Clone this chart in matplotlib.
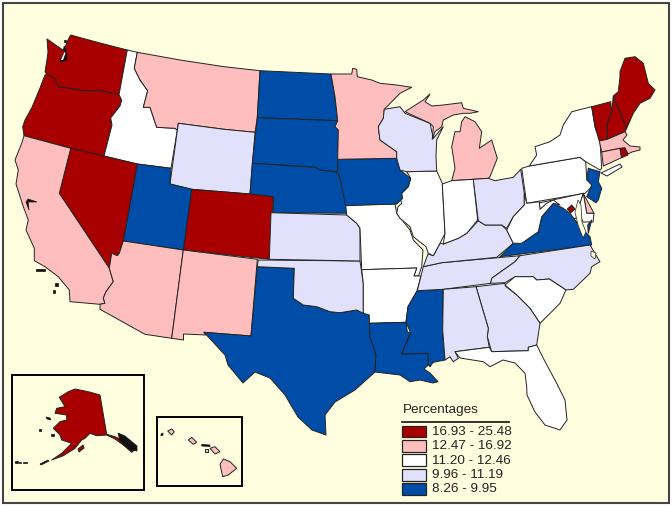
import matplotlib
matplotlib.use('Agg')
import matplotlib.pyplot as plt
from matplotlib.patches import Polygon, Rectangle

plt.rcParams['font.family'] = ['Liberation Sans', 'DejaVu Sans']

# class labels, top class first
bin_labels = ['16.93 - 25.48', '12.47 - 16.92', '11.20 - 12.46', '9.96 - 11.19', '8.26 - 9.95']
bin_colors = ['#A80000', '#FFBEBE', '#FFFFFF', '#E1E1FC', '#004DA8']

# which states fall in which class
bin_states = [
    ['WA', 'OR', 'NV', 'CO', 'VT', 'NH', 'ME', 'RI', 'DC', 'AK'],
    ['CA', 'AZ', 'NM', 'MT', 'MN', 'MI', 'MI2', 'MA', 'CT', 'DE', 'HI'],
    ['ID', 'MO', 'AR', 'IL', 'IN', 'WV', 'NY', 'LI', 'PA', 'SC', 'FL', 'MD', 'MD2'],
    ['WY', 'KS', 'OK', 'WI', 'OH', 'KY', 'TN', 'NC', 'AL', 'GA'],
    ['ND', 'SD', 'NE', 'IA', 'UT', 'TX', 'LA', 'MS', 'VA', 'VA2', 'NJ'],
]

# outlines, in image pixels
outlines = {
    'WA': [(47, 39), (50, 41), (57, 46), (63, 50), (66, 45), (68, 40), (70.7, 35), (100, 43), (127.3, 50), (119, 94.7), (100, 90.7), (83, 90.7), (70, 88.3), (58, 86.7), (55, 78.3), (46.7, 74), (45, 71.7), (46.7, 61.7), (48, 52)],
    'OR': [(46.7, 74), (55, 78.3), (58, 86.7), (70, 88.3), (83, 90.7), (100, 90.7), (119, 94.7), (121.7, 100), (120, 106), (110.7, 118), (112, 125), (104, 156), (70.7, 148.3), (24, 135.7), (22.7, 126.7), (25, 120), (31.7, 108), (40, 88), (45, 75)],
    'ID': [(127.3, 50), (137.3, 52.3), (134.3, 68.3), (140, 80), (147.7, 90.7), (143.3, 107.3), (150, 107.3), (156.7, 127.3), (175, 128.3), (177.3, 130), (171, 168.3), (137.3, 164), (104, 156), (112, 125), (110.7, 118), (120, 106), (121.7, 100), (119, 94.7)],
    'MT': [(137.3, 52.3), (180, 60), (224, 66.7), (260, 70.7), (257.3, 117.7), (255, 132.3), (224, 129.3), (178.3, 123.3), (177.3, 130), (175, 128.3), (156.7, 127.3), (150, 107.3), (143.3, 107.3), (147.7, 90.7), (140, 80), (134.3, 68.3)],
    'WY': [(178.3, 123.3), (224, 129.3), (255, 132.3), (250, 194), (191.7, 189.3), (170, 184)],
    'ND': [(260, 70.7), (331, 74), (335, 96.7), (337.7, 120.7), (257.3, 117.7)],
    'SD': [(257.3, 117.7), (337.7, 120.7), (335, 126.7), (338.3, 130), (337.7, 170), (336.7, 172), (320, 170), (315, 167.3), (252.3, 163.3)],
    'NE': [(252.3, 163.3), (315, 167.3), (320, 170), (336.7, 172), (340, 178.3), (345, 196.7), (348.3, 213.3), (273.3, 212.7), (273.3, 196.7), (250, 194)],
    'CO': [(191.7, 189.3), (250, 194), (273.3, 196.7), (269.3, 259.3), (183.3, 250)],
    'UT': [(137.3, 164), (171, 168.3), (170, 184), (191.7, 189.3), (183.3, 250), (123.3, 241)],
    'NV': [(70.7, 148.3), (137.3, 164), (123.3, 241), (119.3, 253.3), (117.3, 255.7), (111.7, 253.3), (109.3, 268.3), (59.3, 193.3)],
    'CA': [(24, 135.7), (70.7, 148.3), (59.3, 193.3), (109.3, 268.3), (113.3, 281.7), (106, 291.7), (103.3, 298.3), (105, 303.3), (100, 304.3), (70, 301.7), (69.3, 290), (58.3, 276.7), (45, 266.7), (34.3, 260.7), (34.3, 248.3), (26, 230), (28.3, 220), (23.3, 206.7), (16, 184), (18.3, 170), (15, 160), (21.7, 143.3)],
    'AZ': [(123.3, 241), (183.3, 250), (171.7, 338.3), (145, 334.3), (100, 309.3), (100, 304.3), (105, 303.3), (103.3, 298.3), (106, 291.7), (113.3, 281.7), (109.3, 268.3), (111.7, 253.3), (117.3, 255.7), (119.3, 253.3)],
    'NM': [(183.3, 250), (257.3, 259.3), (251, 336), (204, 332.3), (206, 335), (183.5, 334), (183.5, 340), (171.7, 338.3)],
    'TX': [(257.3, 266.7), (294.3, 268.3), (293.3, 298.3), (303.3, 305), (316.7, 306.7), (330, 311.7), (340, 312.7), (356.7, 310), (369.3, 315), (370, 336.7), (376, 355), (375, 372), (355, 390), (335, 402), (325, 415), (326, 435), (312, 430), (298, 417), (285, 395), (270, 378), (255, 372), (243, 383), (228, 365), (225, 355), (204, 332.3), (251, 336)],
    'OK': [(258.3, 260), (360, 261), (363.3, 283.3), (363.3, 313.3), (356.7, 310), (340, 312.7), (330, 311.7), (316.7, 306.7), (303.3, 305), (293.3, 298.3), (294.3, 268.3), (257.3, 266.7)],
    'KS': [(271, 212.7), (346.7, 215), (356.7, 223.3), (360, 228.3), (360, 261), (269.3, 259.3)],
    'MO': [(345.7, 205), (395, 204), (396.7, 213.3), (410, 230), (413.3, 240), (423, 250), (421.7, 266.7), (418.5, 276), (414, 276), (416.7, 268), (361.7, 269.7), (360, 228.3), (356.7, 223.3), (346.7, 215)],
    'AR': [(361.7, 269.7), (416.7, 268), (414, 276), (421, 276), (417, 291), (408, 306.7), (406, 322.3), (369.3, 323.3), (369.3, 315), (363.3, 313.3), (363.3, 283.3)],
    'LA': [(369.3, 323.3), (406, 322.3), (407.3, 331.7), (410.7, 333), (401.7, 354), (428.3, 353.3), (428.3, 365), (424, 369), (430, 373), (438, 381.7), (433, 383), (420, 380), (410, 381.7), (400, 375), (375, 372), (376, 355), (370, 336.7)],
    'MS': [(417, 291), (443.3, 289.3), (442.7, 330), (445, 360), (433.3, 362.3), (430, 366.7), (428.3, 365), (428.3, 353.3), (401.7, 354), (410.7, 333), (406, 322.3), (408, 306.7)],
    'TN': [(417.3, 290.7), (423.3, 266.7), (441.7, 262.7), (520, 255.7), (515, 261.7), (503.3, 270), (491.7, 278.3), (490.7, 283.3), (443.3, 289.3)],
    'KY': [(423.3, 266.7), (428, 254), (433.3, 255.7), (440, 243.3), (443.3, 244), (458.3, 238.3), (466.7, 233.3), (478.3, 220.7), (485, 225), (501.7, 225), (506.7, 230), (513.3, 243.3), (496.7, 257.3), (441.7, 262.7)],
    'IL': [(406.7, 171.7), (436.7, 171), (442.3, 183.3), (445, 233.3), (440, 243.3), (433.3, 255.7), (428.3, 253.3), (426, 246.7), (413.3, 236.7), (410, 226.7), (400, 218.3), (396.7, 213.3), (398, 206.7), (401.7, 203.3), (400, 198.3), (401.7, 193.3), (408.3, 186.7), (410.7, 178.3)],
    'IA': [(337.7, 159.3), (396.7, 158.3), (400, 170), (410.7, 178.3), (408.3, 186.7), (401.7, 193.3), (402.7, 198.3), (396.7, 204), (345.7, 205.7), (340, 178.3), (337.7, 171.7)],
    'MN': [(331, 74), (351.7, 74), (352.7, 68.3), (356.7, 69.3), (357.3, 76.7), (371.7, 80), (380, 83.3), (396.7, 85), (411.7, 87.3), (400, 93.3), (384.3, 109.3), (383.3, 118.3), (378.3, 126.7), (380, 140), (396.7, 151.7), (396.7, 158.3), (337.7, 159.3), (338.3, 130), (335, 126.7), (337.7, 120.7), (335, 96.7)],
    'WI': [(384.3, 109.3), (400, 106.7), (405, 113.3), (430, 123.3), (433.3, 138.3), (443.3, 126.7), (436.7, 140), (436, 156.7), (436.7, 171), (406.7, 171.7), (400, 170), (396.7, 158.3), (396.7, 151.7), (380, 140), (378.3, 126.7), (383.3, 118.3)],
    'MI': [(405, 111.7), (423.3, 100), (430, 94), (425, 101.7), (431.7, 106), (443.3, 105), (461.7, 102.7), (463.3, 108.3), (478.3, 111.7), (470, 113.3), (463.3, 113.3), (453.3, 115), (443.3, 120), (441.7, 126.7), (435, 131.7), (432.3, 139.3), (433.3, 126.7), (430, 123.3)],
    'MI2': [(465, 116.7), (475, 121.7), (481.7, 131.7), (479.3, 148.3), (491.7, 140), (497.3, 158.3), (490, 176.7), (488.3, 178.3), (451.7, 180.7), (455, 168.3), (451.7, 146.7), (455, 131.7), (460, 131.7), (461.7, 121.7)],
    'IN': [(442.3, 184), (451.7, 180.7), (473.3, 179.3), (477.7, 220), (466.7, 233.3), (458.3, 238.3), (443.3, 244), (445, 233.3)],
    'OH': [(473.3, 179.3), (488.3, 178.3), (495, 180.7), (513.3, 177.3), (520.7, 169.3), (524.3, 193.3), (524.3, 205), (513.3, 216.7), (506.7, 228.3), (501.7, 225), (485, 225), (478.3, 220.7)],
    'PA': [(521.7, 168.3), (529.3, 166), (580, 157.3), (585.7, 161.7), (586.7, 178.3), (593.3, 185), (585, 193.3), (526.7, 203.3)],
    'NY': [(529.3, 166), (536.7, 155), (535, 146.7), (550, 141.7), (560, 135), (563.3, 125), (571.7, 111.7), (591.7, 106.7), (595, 126.7), (600, 141), (601.7, 168.3), (600, 170), (585.7, 161.7), (580, 157.3)],
    'LI': [(601, 173), (620, 164), (622, 167), (607, 176)],
    'NJ': [(588.3, 168.3), (600, 171.7), (598.3, 181.7), (601.7, 188.3), (598.3, 200), (596, 202.7), (586.7, 196.7), (591.7, 185), (586.7, 180)],
    'DE': [(583.3, 193.3), (585, 196.7), (594, 213.3), (586.7, 213.3)],
    'MD': [(539, 203), (583.3, 193.3), (580, 205), (576, 218), (568, 222), (560, 212), (553.3, 201), (546.7, 204), (540, 209.5)],
    'MD2': [(583.3, 193.3), (586.7, 213.3), (594, 213.3), (593, 222), (583, 222), (578, 210)],
    'DC': [(571.7, 205), (575, 209), (570.7, 212.7), (567.3, 209)],
    'VA': [(500, 256.7), (513.3, 243.3), (521.7, 243.3), (538.3, 231.7), (541.7, 216.7), (553.3, 203.3), (563.3, 208.3), (570, 213.3), (575, 220), (583.3, 230), (590, 236.7), (591.7, 245)],
    'VA2': [(591.7, 220), (588.3, 233.3), (587.7, 225)],
    'WV': [(524.3, 193.3), (526.7, 203.3), (539.3, 201.7), (540, 209.3), (546.7, 203.3), (553.3, 200), (560, 205), (553.3, 203.3), (541.7, 216.7), (538.3, 231.7), (521.7, 243.3), (513.3, 243.3), (506.7, 230), (513.3, 216.7), (524.3, 205)],
    'NC': [(520, 255.7), (590, 245), (600, 261.7), (591.7, 266.7), (590, 273.3), (573.3, 289.3), (566, 290), (549.3, 279), (536.7, 280), (533.3, 276.7), (515, 276.7), (505, 282.7), (490.7, 283.3), (491.7, 278.3), (503.3, 270), (515, 261.7)],
    'SC': [(505, 285), (515, 276.7), (533.3, 276.7), (536.7, 280), (549.3, 279), (566, 290), (560, 303.3), (551.7, 311.7), (540, 323.3), (530, 308.3), (516.7, 295)],
    'GA': [(476, 286.7), (505, 283.3), (505.3, 286), (516.7, 295), (530, 308.3), (540, 323.3), (536.7, 345), (528.3, 347.3), (528.3, 350.7), (491.7, 351.7), (487.3, 336.7), (488.3, 328.3)],
    'AL': [(443.3, 289.3), (476, 286.7), (488.3, 328.3), (487.3, 336.7), (489.3, 347.3), (455, 351.7), (458.3, 358.3), (453.3, 361.7), (450, 356.7), (445, 360), (442.7, 330)],
    'FL': [(455, 351.7), (489.3, 347.3), (491.7, 351.7), (528.3, 350.7), (528.3, 347.3), (536.7, 345), (543.3, 358.3), (556.7, 383.3), (565, 400), (567, 420), (560, 430), (545, 425), (535, 412), (527, 395), (526.7, 386.7), (525, 373.3), (515, 363), (503, 360), (490, 366.7), (483.3, 361.7), (460, 358)],
    'VT': [(591.7, 106.7), (610.7, 101.7), (611.7, 111.7), (607.3, 123.3), (607.3, 139.3), (599.3, 141), (595, 126.7)],
    'NH': [(613.3, 96), (626.7, 128.3), (625, 131.7), (607.3, 139.3), (607.3, 123.3), (611.7, 111.7)],
    'ME': [(613.3, 96), (618.3, 91.7), (620, 76.7), (620, 71.7), (625, 58.3), (635, 56.7), (643.3, 63.3), (648.3, 83.3), (655, 90), (650, 98.3), (640, 103.3), (633.3, 113.3), (626.7, 128.3)],
    'MA': [(599.3, 141), (607.3, 139.3), (625, 131.7), (627, 135), (623, 140), (630, 146), (640, 147), (640, 150), (632, 152), (628, 154), (626, 150), (620, 148.3), (601.7, 152)],
    'CT': [(601.7, 152), (620, 148.3), (621.5, 157.7), (603.3, 166)],
    'RI': [(620, 148.3), (625, 147.7), (628, 155), (621.7, 157.7)],
    'AK': [(59.3, 397.3), (68.3, 391.7), (75, 389), (88.3, 391.7), (100, 395), (106.7, 434.3), (115, 436.7), (125, 441.7), (136.7, 448.3), (131.7, 452.3), (123.3, 445), (115, 439), (106.7, 435), (96.7, 435.7), (90, 433.3), (85, 438.3), (81.7, 440), (75, 448.3), (63.3, 455.7), (51.7, 460), (61.7, 453.3), (71.7, 443.3), (61.7, 440), (60, 435), (53.3, 428.3), (60, 421.7), (66.7, 420), (66.7, 415), (55, 413.3), (56.7, 408.3), (65, 406.7)],
    'HI': [(220, 464.3), (223.3, 459), (230, 461.7), (236.7, 468.3), (228.3, 475), (222.7, 476.7)],
}

# extra pieces of the same states
extra_shapes = [
    ('HI', [(210, 448.3), (215, 446.7), (220, 451.7), (215, 454)]),
    ('HI', [(188.3, 440), (191.7, 437.3), (196.7, 442.3), (193.3, 444.3)]),
    ('HI', [(167.7, 431), (171.7, 429), (174.3, 431.7), (171.7, 435)]),
    ('HI', [(205, 449), (208, 449), (208, 452), (205, 452)]),
    ('AK', [(78, 449), (83, 445), (84, 448), (79, 452)]),
]

# tiny islands and bays that come out as solid black
black_bits = [
    [(118, 433), (125, 436), (137, 446), (137, 451), (130, 450), (120, 441)],
    [(46, 417), (50, 418), (51, 420), (47, 419)],
    [(39, 429), (41, 429), (41, 431), (39, 431)],
    [(51, 434), (54, 434), (54, 436), (51, 436)],
    [(40, 464), (48, 460), (49, 461), (41, 465)],
    [(23, 462), (27, 462), (27, 463), (23, 463)],
    [(15, 461), (18, 461), (18, 463), (15, 463)],
    [(19, 462), (21, 462), (21, 463), (19, 463)],
    [(201.7, 444.5), (210, 445), (210, 446.5), (201.7, 446)],
    [(161, 434), (163, 433), (163, 435), (161, 436)],
    [(36, 269), (45, 269), (45, 271), (36, 271)],
    [(55, 283), (58, 283), (58, 286), (55, 286)],
    [(53, 290), (55, 290), (55, 293), (53, 293)],
    [(28, 199), (37, 202), (28, 202), (29, 210), (26, 202)],
    [(64, 46), (66, 50), (67, 60), (60, 62), (60, 59), (64, 56)],
    [(64, 40), (66, 40), (66, 42), (64, 42)],
]

# light spots inside the dark coast bits
puget_spots = [[(61, 60), (64.5, 52), (65.5, 53), (63, 60)]]

# Chesapeake and Albemarle water
water_bits = [
    [(578, 200), (581, 205), (582, 222), (586, 232), (583, 238), (578, 225), (575, 212)],
    [(591, 251), (596, 253), (595, 259), (591, 256)],
]

# inset frames of Alaska and Hawaii
inset_boxes = [(11.7, 375, 132.6, 115), (156.7, 416.7, 85, 69.3)]

swatch_tops = [425.7, 440, 454.3, 469, 483.3]

page_color = '#FFFFE0'

fig = plt.figure(figsize=(6.72, 5.08), dpi=100, facecolor='white')
ax = fig.add_axes([0, 0, 1, 1])
ax.set_xlim(0, 672)
ax.set_ylim(508, 0)
ax.axis('off')

ax.add_patch(Rectangle((2.5, 3), 666.5, 500, facecolor=page_color, edgecolor='#444444', lw=1.5))

state_color = {}
for states, color in zip(bin_states, bin_colors):
    for st in states:
        state_color[st] = color

for st, pts in outlines.items():
    ax.add_patch(Polygon(pts, closed=True, facecolor=state_color[st], edgecolor='#222222', lw=0.7, joinstyle='round'))

for st, pts in extra_shapes:
    ax.add_patch(Polygon(pts, closed=True, facecolor=state_color[st], edgecolor='#222222', lw=0.7))

for pts in black_bits:
    ax.add_patch(Polygon(pts, closed=True, facecolor='#111111', edgecolor='#111111', lw=0.5))

for pts in puget_spots:
    ax.add_patch(Polygon(pts, closed=True, facecolor='white', edgecolor='none'))

for pts in water_bits:
    ax.add_patch(Polygon(pts, closed=True, facecolor=page_color, edgecolor='#222222', lw=0.5))

for x, y, w, h in inset_boxes:
    ax.add_patch(Rectangle((x, y), w, h, fill=False, edgecolor='black', lw=1.4))

# legend
ax.text(402.5, 410, 'Percentages', fontsize=9.7, color='#222222', va='center', ha='left')
ax.plot([402.3, 509.3], [421.7, 421.7], color='#111111', lw=1.2)
for top, color, label in zip(swatch_tops, bin_colors, bin_labels):
    ax.add_patch(Rectangle((402.3, top), 23.4, 11.7, facecolor=color, edgecolor='#222222', lw=0.9))
    ax.text(431.5, top + 6.2, label, fontsize=9.7, color='#222222', va='center', ha='left')

fig.savefig('out.png', dpi=100)
